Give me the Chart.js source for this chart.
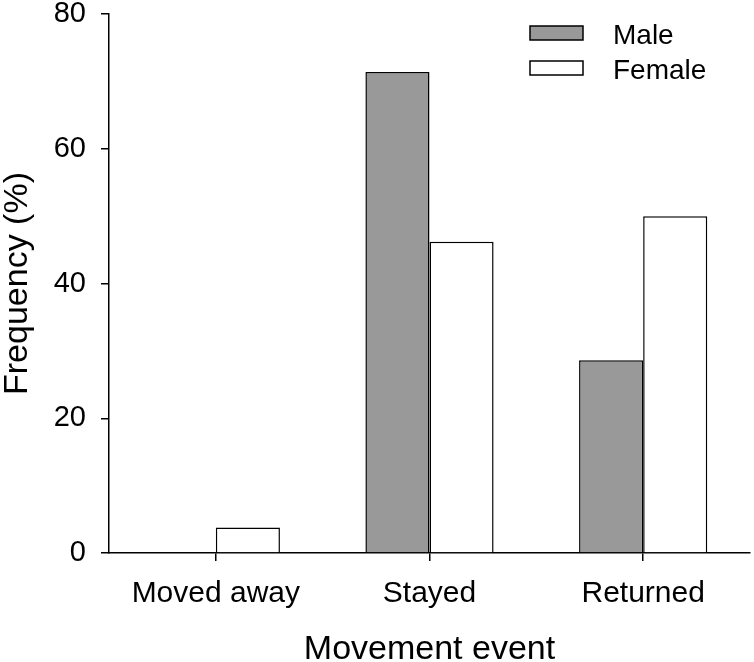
<!DOCTYPE html>
<html>
<head>
<meta charset="utf-8">
<script src="https://cdn.jsdelivr.net/npm/chart.js@4.4.0/dist/chart.umd.min.js"></script>
<style>
  html, body { margin: 0; padding: 0; background: #fff; }
  #wrap { width: 754px; height: 662px; }
</style>
</head>
<body>
<div id="wrap"><canvas id="chart" width="754" height="662"></canvas></div>
<script>
const categories = ["Moved away", "Stayed", "Returned"];
const maleValues = [0, 71.4, 28.6];
const femaleValues = [3.8, 46.2, 50.0];
const yTicks = [0, 20, 40, 60, 80];

const FONT = '"Liberation Sans", Arial, sans-serif';

// legend drawn by hand: two stacked boxes at the top right
const boxLegend = {
    id: "boxLegend",
    afterDraw(chart) {
        const ctx = chart.ctx;
        ctx.save();
        chart.data.datasets.forEach((ds, i) => {
            const y = 26 + i * 35;
            ctx.fillStyle = ds.backgroundColor;
            ctx.fillRect(530, y, 53, 14);
            ctx.lineWidth = 1.5;
            ctx.strokeStyle = "#000";
            ctx.strokeRect(530, y, 53, 14);
            ctx.fillStyle = "#000";
            ctx.font = "28px " + FONT;
            ctx.textBaseline = "middle";
            ctx.textAlign = "left";
            ctx.fillText(ds.label, 613, y + 10);
        });
        ctx.restore();
    }
};

const myChart = new Chart(document.getElementById("chart"), {
    type: "bar",
    data: {
        labels: categories,
        datasets: [
            { label: "Male", data: maleValues, backgroundColor: "#999999", borderColor: "#000", borderWidth: 1.5 },
            { label: "Female", data: femaleValues, backgroundColor: "#ffffff", borderColor: "#000", borderWidth: 1.5 }
        ]
    },
    options: {
        responsive: false,
        devicePixelRatio: 1,
        animation: false,
        layout: { padding: { left: 0, right: 4, top: 0, bottom: 0 } },
        datasets: { bar: { categoryPercentage: 0.6, barPercentage: 1.0 } },
        plugins: { legend: { display: false }, tooltip: { enabled: false } },
        scales: {
            x: {
                offset: true,
                grid: { display: true, drawOnChartArea: false, offset: false, tickLength: 8, color: "#000", lineWidth: 1.5 },
                border: { display: true, color: "#000", width: 1.5 },
                ticks: { color: "#000", font: { family: FONT, size: 30 }, padding: 15, maxRotation: 0 },
                title: { display: true, text: "Movement event", color: "#000", font: { family: FONT, size: 34, lineHeight: 0.7 }, padding: { top: 0, bottom: 0 } },
                afterFit: (scale) => { scale.height = 109; }
            },
            y: {
                min: 0,
                max: 80,
                afterBuildTicks: (scale) => { scale.ticks = yTicks.map(v => ({ value: v })); },
                grid: { display: true, drawOnChartArea: false, tickLength: 8, color: "#000", lineWidth: 1.5 },
                border: { display: true, color: "#000", width: 1.5 },
                ticks: { color: "#000", font: { family: FONT, size: 29, lineHeight: 1 }, padding: 15 },
                title: { display: true, text: "Frequency (%)", color: "#000", font: { family: FONT, size: 34, lineHeight: 1 }, padding: { top: 1, bottom: 0 } },
                afterFit: (scale) => {
                    scale.width = 109;
                    scale.paddingTop = 14;
                    scale.paddingBottom = 0;
                }
            }
        }
    },
    plugins: [boxLegend]
});
</script>
</body>
</html>
